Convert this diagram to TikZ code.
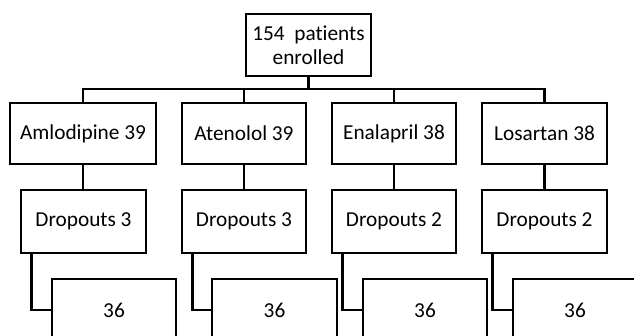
\documentclass[tikz,border=0pt]{standalone}
\usepackage{fontspec}
\setmainfont{Carlito}[Ligatures=NoCommon]
\begin{document}
\begin{tikzpicture}[x=1pt,y=-1pt,
  box/.style={draw=black,line width=2.6pt,fill=white,rectangle,inner sep=0pt,align=center,font=\fontsize{21.3}{24.5}\selectfont},
  link/.style={draw=black,line width=2.6pt}]
\useasboundingbox (0,0) rectangle (634,335);
\clip (0,0) rectangle (634,335);
\node[box,minimum width=125pt,minimum height=62pt] (top) at (308.5,45) {154\ \ patients\\enrolled};
\coordinate (bus) at (0,89);
\node[box,minimum width=146pt,minimum height=61pt] (a1) at (83,133.5) {Amlodipine 39};
\node[box,minimum width=124pt,minimum height=61pt] (a2) at (244,133.5) {Atenolol 39};
\node[box,minimum width=124pt,minimum height=61pt] (a3) at (394,133.5) {Enalapril 38};
\node[box,minimum width=125pt,minimum height=61pt] (a4) at (544.5,133.5) {Losartan 38};
\node[box,minimum width=125pt,minimum height=63pt] (d1) at (83.5,221.5) {Dropouts 3};
\node[box,minimum width=124pt,minimum height=63pt] (d2) at (244,221.5) {Dropouts 3};
\node[box,minimum width=124pt,minimum height=63pt] (d3) at (394,221.5) {Dropouts 2};
\node[box,minimum width=125pt,minimum height=63pt] (d4) at (544.5,221.5) {Dropouts 2};
\node[box,minimum width=124pt,minimum height=62pt] (r1) at (114,310) {36};
\node[box,minimum width=125pt,minimum height=62pt] (r2) at (274.5,310) {36};
\node[box,minimum width=124pt,minimum height=62pt] (r3) at (425,310) {36};
\node[box,minimum width=124pt,minimum height=62pt] (r4) at (575,310) {36};
\draw[link] (top.south) -- (top.south |- bus);
\draw[link,line cap=rect] (a1.north |- bus) -- (a4.north |- bus);
\foreach \i in {1,2,3,4}{
  \draw[link] (a\i.north) -- (a\i.north |- bus);
  \draw[link] (a\i.south) -- (a\i.south |- d\i.north);
  \draw[link] ([xshift=12pt]d\i.south west) |- (r\i.west);
}
\end{tikzpicture}
\end{document}
